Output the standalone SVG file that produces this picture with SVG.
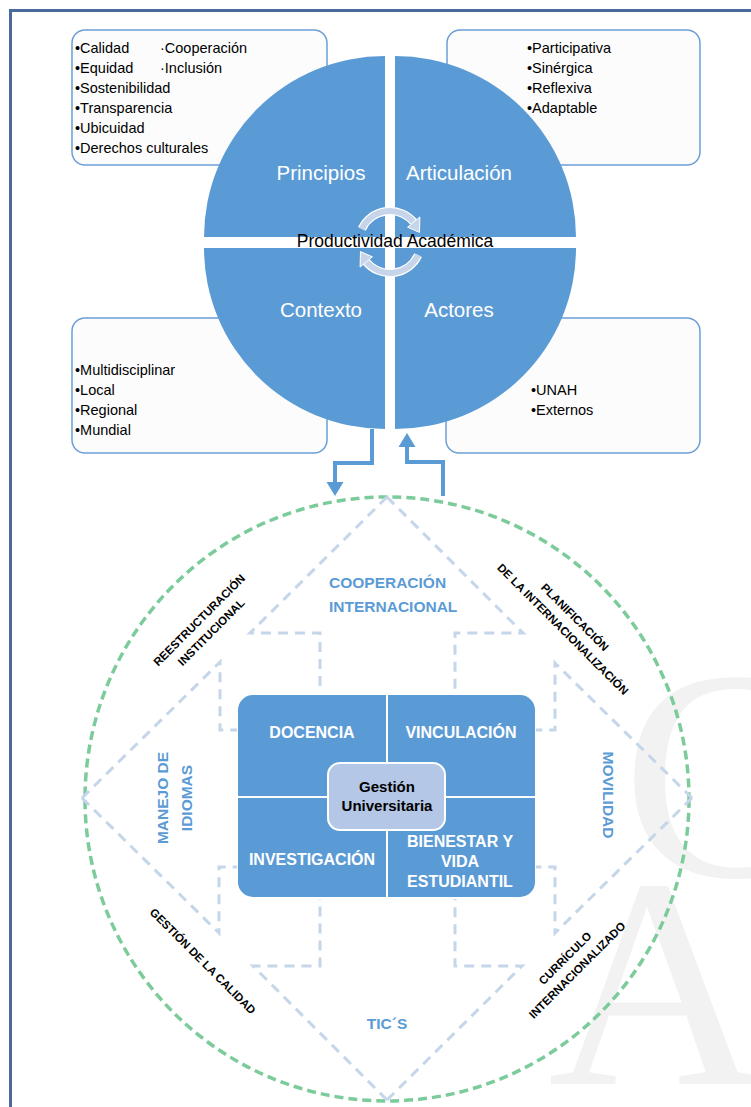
<svg xmlns="http://www.w3.org/2000/svg" width="751" height="1107" viewBox="0 0 751 1107">
<defs>
<style>
.t{font-family:"Liberation Sans",Arial,sans-serif;}
.box{fill:#fcfcfc;stroke:#6b9fd6;stroke-width:1.5;}
.item{font-family:"Liberation Sans",Arial,sans-serif;font-size:14.5px;fill:#000;}
.quad{fill:#5b9bd5;}
.qt{font-family:"Liberation Sans",Arial,sans-serif;font-size:20.5px;fill:#fff;text-anchor:middle;}
.iq{fill:#5b9bd5;}
.il{font-family:"Liberation Sans",Arial,sans-serif;font-size:16px;font-weight:bold;fill:#fff;text-anchor:middle;}
.ol{font-family:"Liberation Sans",Arial,sans-serif;font-size:15.5px;font-weight:bold;fill:#5b9bd5;}
.bl{font-family:"Liberation Sans",Arial,sans-serif;font-size:11.5px;font-weight:bold;fill:#000;text-anchor:middle;}
.dash{fill:none;stroke:#c5d6ea;stroke-width:3;stroke-dasharray:10 7;}
.flow{fill:none;stroke:#5b9bd5;stroke-width:4;}
.cyc{fill:none;stroke:#c7d5ea;stroke-width:6;}
.cycw{fill:none;stroke:#ffffff;stroke-width:8.5;}
</style>
</defs>
<rect x="0" y="0" width="751" height="1107" fill="#ffffff"/>
<g id="watermark" font-family="'Liberation Serif','Times New Roman',serif" font-size="300" fill="#f2f2f2">
<text x="622" y="876">C</text>
<text x="548" y="1084">A</text>
</g>
<rect id="frame" x="10.5" y="10.5" width="800" height="1200" fill="none" stroke="#4a6a9e" stroke-width="3"/>

<g id="box-principios">
<rect class="box" x="72" y="30" width="255" height="135" rx="13"/>
<text class="item" x="75" y="53">•Calidad</text>
<text class="item" x="160" y="53">·Cooperación</text>
<text class="item" x="75" y="73">•Equidad</text>
<text class="item" x="160" y="73">·Inclusión</text>
<text class="item" x="75" y="93">•Sostenibilidad</text>
<text class="item" x="75" y="113">•Transparencia</text>
<text class="item" x="75" y="133">•Ubicuidad</text>
<text class="item" x="75" y="153">•Derechos culturales</text>
</g>
<g id="box-articulacion">
<rect class="box" x="447" y="30" width="253" height="135" rx="13"/>
<text class="item" x="527" y="53">•Participativa</text>
<text class="item" x="527" y="73">•Sinérgica</text>
<text class="item" x="527" y="93">•Reflexiva</text>
<text class="item" x="527" y="113">•Adaptable</text>
</g>
<g id="box-contexto">
<rect class="box" x="72" y="318" width="255" height="135" rx="13"/>
<text class="item" x="75" y="375">•Multidisciplinar</text>
<text class="item" x="75" y="395">•Local</text>
<text class="item" x="75" y="415">•Regional</text>
<text class="item" x="75" y="435">•Mundial</text>
</g>
<g id="box-actores">
<rect class="box" x="446" y="318" width="254" height="135" rx="13"/>
<text class="item" x="531" y="395">•UNAH</text>
<text class="item" x="531" y="415">•Externos</text>
</g>

<g id="q-principios">
<path class="quad" d="M385,237 L204,237 A181,181 0 0 1 385,56 Z"/>
<text class="qt" x="321" y="180">Principios</text>
</g>
<g id="q-articulacion">
<path class="quad" d="M395,237 L395,56 A181,181 0 0 1 576,237 Z"/>
<text class="qt" x="459" y="180">Articulación</text>
</g>
<g id="q-contexto">
<path class="quad" d="M385,248 L385,429 A181,181 0 0 1 204,248 Z"/>
<text class="qt" x="321" y="317">Contexto</text>
</g>
<g id="q-actores">
<path class="quad" d="M395,248 L576,248 A181,181 0 0 1 395,429 Z"/>
<text class="qt" x="459" y="317">Actores</text>
</g>

<g id="cycle">
<path class="cycw" d="M361.9,228.9 A31,31 0 0 1 413.7,222.1"/>
<path class="cyc" d="M361.9,228.9 A31,31 0 0 1 413.7,222.1"/>
<polygon points="407.6,227.2 419.9,216.9 419.5,232.4" fill="#c7d5ea" stroke="#fff" stroke-width="1"/>
<path class="cycw" d="M418.1,255.1 A31,31 0 0 1 366.3,261.9"/>
<path class="cyc" d="M418.1,255.1 A31,31 0 0 1 366.3,261.9"/>
<polygon points="372.4,256.8 360.1,267.1 360.5,251.6" fill="#c7d5ea" stroke="#fff" stroke-width="1"/>
<text class="t" x="395" y="247" font-size="17.5" text-anchor="middle" fill="#000">Productividad Académica</text>
</g>

<g id="green-circle">
<circle cx="387" cy="799" r="302" fill="none" stroke="#7ccb9a" stroke-width="3.5" stroke-dasharray="9 5"/>
</g>

<g id="connectors">
<path class="flow" d="M372,429 V463 H335 V483"/>
<polygon points="326.5,482 343.5,482 335,496" fill="#5b9bd5"/>
<path class="flow" d="M443,496 V462 H407 V446"/>
<polygon points="398.5,447 415.5,447 407,433" fill="#5b9bd5"/>
<path class="dash" d="M387,497 L250,633 H320 V692"/>
<path class="dash" d="M82,798 L220,662 V730 H237"/>
<path class="dash" d="M387,497 L523,633 H455 V692"/>
<path class="dash" d="M692,798 L555,663 V730 H536"/>
<path class="dash" d="M692,798 L555,933 V867 H536"/>
<path class="dash" d="M387,1100 L522,966 H455 V899"/>
<path class="dash" d="M387,1100 L253,966 H320 V899"/>
<path class="dash" d="M82,798 L219,933 V867 H237"/>
</g>

<g id="docencia">
<path class="iq" d="M238,796 V710 A15,15 0 0 1 253,695 H386 V796 Z"/>
<text class="il" x="312" y="738">DOCENCIA</text>
</g>
<g id="vinculacion">
<path class="iq" d="M388,695 H520 A15,15 0 0 1 535,710 V796 H388 Z"/>
<text class="il" x="461" y="738">VINCULACIÓN</text>
</g>
<g id="investigacion">
<path class="iq" d="M238,798 H386 V897 H253 A15,15 0 0 1 238,882 Z"/>
<text class="il" x="312" y="865">INVESTIGACIÓN</text>
</g>
<g id="bienestar">
<path class="iq" d="M388,798 H535 V882 A15,15 0 0 1 520,897 H388 Z"/>
<text class="il" x="460" y="847">BIENESTAR Y</text>
<text class="il" x="460" y="867">VIDA</text>
<text class="il" x="460" y="887">ESTUDIANTIL</text>
</g>
<g id="gestion">
<rect x="328" y="763" width="117" height="67" rx="12" fill="#b4c7e7" stroke="#ffffff" stroke-width="2"/>
<text class="t" x="387" y="792" font-size="15" font-weight="bold" text-anchor="middle" fill="#000">Gestión</text>
<text class="t" x="387" y="811" font-size="15" font-weight="bold" text-anchor="middle" fill="#000">Universitaria</text>
</g>

<g id="cooperacion">
<text class="ol" x="329" y="588">COOPERACIÓN</text>
<text class="ol" x="329" y="612">INTERNACIONAL</text>
</g>
<g id="idiomas">
<text class="ol" text-anchor="middle" transform="translate(168,798) rotate(-90)">MANEJO DE</text>
<text class="ol" text-anchor="middle" transform="translate(192,798) rotate(-90)">IDIOMAS</text>
</g>
<g id="movilidad">
<text class="ol" text-anchor="middle" transform="translate(603,795) rotate(90)">MOVILIDAD</text>
</g>
<g id="tics">
<text class="ol" x="387" y="1029" text-anchor="middle" fill="#5b8fc7">TIC´S</text>
</g>
<g id="reestructuracion" transform="translate(202,623) rotate(-45)">
<text class="bl" x="0" y="0">REESTRUCTURACIÓN</text>
<text class="bl" x="0" y="17">INSTITUCIONAL</text>
</g>
<g id="planificacion" transform="translate(572,620) rotate(45)">
<text class="bl" x="0" y="0">PLANIFICACIÓN</text>
<text class="bl" x="0" y="17">DE LA INTERNACIONALIZACIÓN</text>
</g>
<g id="calidad" transform="translate(200,964) rotate(45)">
<text class="bl" x="0" y="0">GESTIÓN DE LA CALIDAD</text>
</g>
<g id="curriculo" transform="translate(568,961) rotate(-45)">
<text class="bl" x="0" y="0">CURRÍCULO</text>
<text class="bl" x="0" y="17">INTERNACIONALIZADO</text>
</g>
</svg>
